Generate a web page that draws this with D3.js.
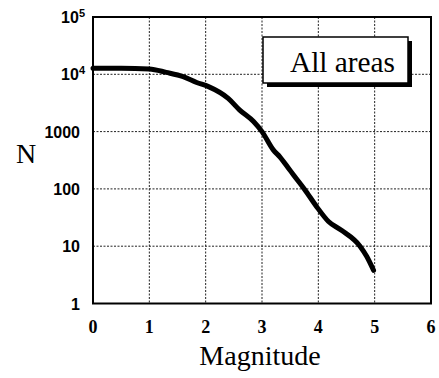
<!DOCTYPE html>
<html>
<head>
<meta charset="utf-8">
<script src="https://cdn.jsdelivr.net/npm/d3@7"></script>
<style>
html,body{margin:0;padding:0;background:#fff;}
svg{display:block;}
</style>
</head>
<body>
<script>
// Data
const magnitude = [0, 0.5, 1.0, 1.3, 1.6, 1.84, 2.05, 2.4, 2.6, 2.85, 3.0, 3.2, 3.32, 3.47, 3.56, 3.76, 3.97, 4.18, 4.41, 4.74, 4.86, 4.98];
const counts    = [12800, 12800, 12400, 10800, 9100, 7200, 6100, 3800, 2400, 1500, 1000, 480, 360, 230, 175, 97, 49, 27, 19, 10, 6.6, 3.8];
const xTicks = [0, 1, 2, 3, 4, 5, 6];
const yTicks = [1, 10, 100, 1000, 1e4, 1e5];
const yTickLabels = [["1"], ["10"], ["100"], ["1000"], ["10", "4"], ["10", "5"]];
const legendLabel = "All areas";
const xTitle = "Magnitude";
const yTitle = "N";

const W = 439, H = 378;
const mLeft = 93, mRight = 431, mTop = 17, mBottom = 303.5;

const svg = d3.select("body").append("svg").attr("width", W).attr("height", H);

const x = d3.scaleLinear().domain([0, 6]).range([mLeft, mRight]);
const y = d3.scaleLog().domain([1, 1e5]).range([mBottom, mTop]);

// grid
const grid = svg.append("g").attr("stroke", "#222").attr("stroke-width", 1).attr("stroke-dasharray", "2,1.5");
grid.selectAll(".vx").data(xTicks.slice(1, -1)).join("line")
  .attr("x1", d => x(d)).attr("x2", d => x(d)).attr("y1", mTop).attr("y2", mBottom);
grid.selectAll(".hy").data(yTicks.slice(1, -1)).join("line")
  .attr("x1", mLeft).attr("x2", mRight).attr("y1", d => y(d)).attr("y2", d => y(d));

// frame
svg.append("rect").attr("x", mLeft).attr("y", mTop).attr("width", mRight - mLeft).attr("height", mBottom - mTop)
  .attr("fill", "none").attr("stroke", "#000").attr("stroke-width", 2);

// y tick labels
const yl = svg.append("g").attr("font-family", "Liberation Sans, Arial, sans-serif")
  .attr("font-weight", "bold").attr("font-size", 16).attr("fill", "#000");
yTicks.forEach((t, i) => {
  const lab = yTickLabels[i];
  const txt = yl.append("text").attr("text-anchor", "end").attr("y", y(t) + 6);
  if (lab.length === 1) {
    txt.attr("x", 80).text(lab[0]);
  } else {
    txt.attr("x", 85);
    txt.append("tspan").text(lab[0]);
    txt.append("tspan").attr("dy", -6).attr("font-size", 11).text(lab[1]);
  }
});

// x tick labels
svg.append("g").attr("font-family", "Liberation Serif, Times New Roman, serif")
  .attr("font-weight", "bold").attr("font-size", 18).attr("fill", "#000")
  .selectAll("text").data(xTicks).join("text")
  .attr("x", d => x(d)).attr("y", 332.5).attr("text-anchor", "middle").text(d => d);

// axis titles
svg.append("text").attr("x", 260).attr("y", 365).attr("text-anchor", "middle")
  .attr("font-family", "Liberation Serif, Times New Roman, serif").attr("font-size", 28).text(xTitle);
svg.append("text").attr("x", 26).attr("y", 163).attr("text-anchor", "middle")
  .attr("font-family", "Liberation Serif, Times New Roman, serif").attr("font-size", 28).text(yTitle);

// curve
const line = d3.line().x((d, i) => x(magnitude[i])).y(d => y(d)).curve(d3.curveMonotoneX);
svg.append("path").datum(counts).attr("d", line).attr("fill", "none")
  .attr("stroke", "#000").attr("stroke-width", 5).attr("stroke-linejoin", "round").attr("stroke-linecap", "round");

// legend box with shadow
svg.append("rect").attr("x", 267).attr("y", 41).attr("width", 145).attr("height", 46).attr("fill", "#000");
svg.append("rect").attr("x", 263).attr("y", 37).attr("width", 145).attr("height", 46)
  .attr("fill", "#fff").attr("stroke", "#000").attr("stroke-width", 1.5);
svg.append("text").attr("x", 290).attr("y", 72)
  .attr("font-family", "Liberation Serif, Times New Roman, serif").attr("font-size", 30)
  .attr("textLength", 105).attr("lengthAdjust", "spacingAndGlyphs").text(legendLabel);
</script>
</body>
</html>
